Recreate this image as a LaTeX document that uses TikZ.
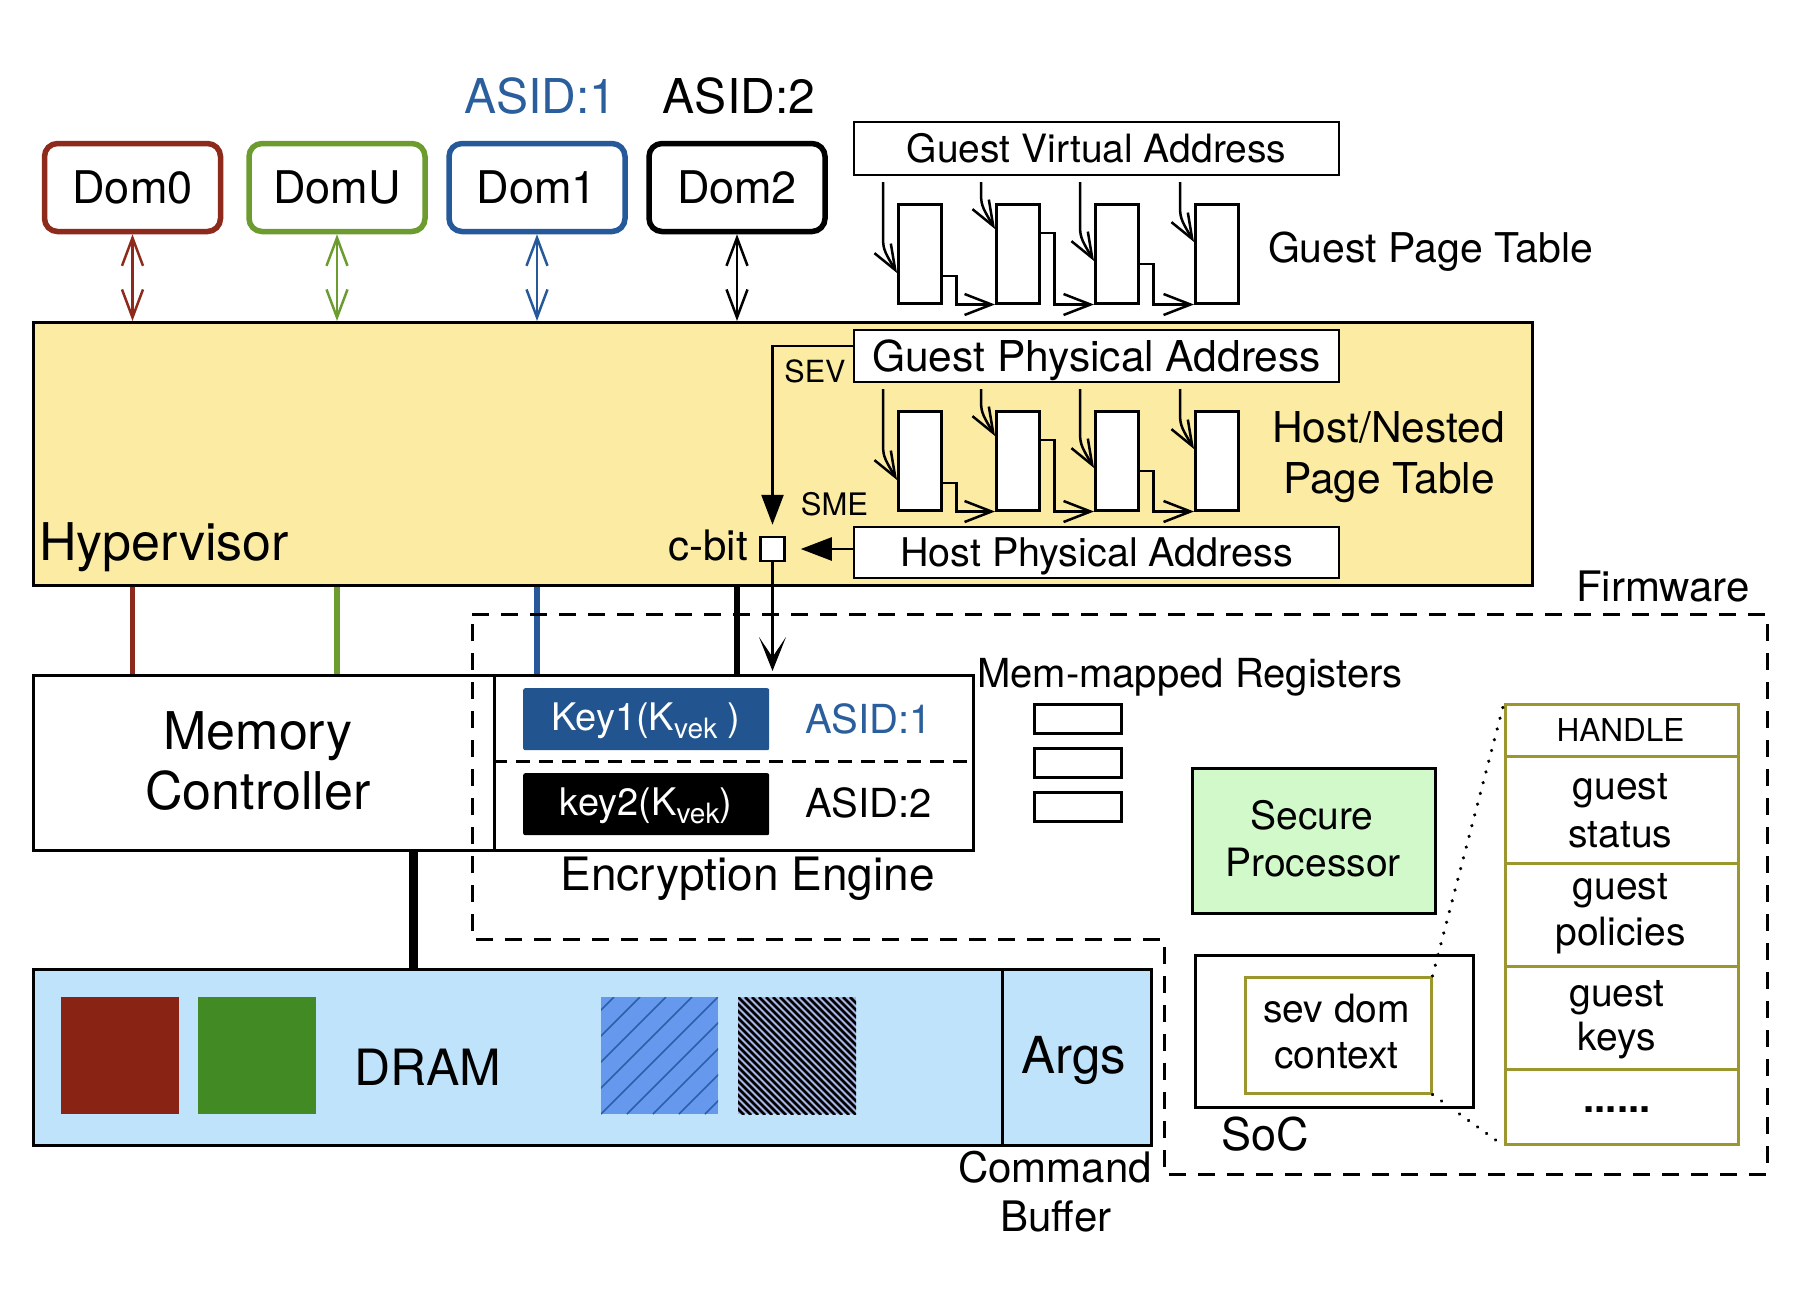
\documentclass[tikz,border=0pt]{standalone}
\usepackage{fontspec}
\setmainfont{TeX Gyre Heros}
\usetikzlibrary{arrows.meta,calc}
\definecolor{domred}{HTML}{8E2A1C}
\definecolor{domgreen}{HTML}{6C9B30}
\definecolor{domblue}{HTML}{25599A}
\definecolor{hypfill}{HTML}{FCEBA3}
\definecolor{keyblue}{HTML}{22558F}
\definecolor{asidblue}{HTML}{2A5E9C}
\definecolor{dramfill}{HTML}{BEE3FB}
\definecolor{sqred}{HTML}{892314}
\definecolor{sqgreen}{HTML}{428A23}
\definecolor{hbluebg}{HTML}{6699EE}
\definecolor{hblueln}{HTML}{2D5FA8}
\definecolor{hblackbg}{HTML}{A8B6E6}
\definecolor{spfill}{HTML}{D1F9C9}
\definecolor{olive}{HTML}{9C962E}
\newcommand\fs[1]{\fontsize{#1}{#1}\selectfont}
\newcommand\vek{\raisebox{-8pt}{\fs{28}vek}}
\begin{document}
\begin{tikzpicture}[x=1pt,y=-1pt,
  bx/.style={draw, line width=2.5pt, inner sep=0pt, anchor=north west, fill=white},
  lbl/.style={inner sep=0pt, anchor=base},
  dombox/.style={draw, line width=5.5pt, rounded corners=13pt, inner sep=0pt,
     minimum width=176pt, minimum height=88pt, fill=white, font=\fs{45}},
  darrow/.style={line width=2.5pt, {Straight Barb[length=28pt,width=21pt]}-{Straight Barb[length=28pt,width=21pt]}},
  vbarb/.style={line width=2.5pt, -{Straight Barb[length=25pt,width=19pt]}},
  hbarb/.style={line width=2.5pt, -{Straight Barb[length=27pt,width=21pt]}},
  tri/.style={line width=2.5pt, -{Triangle[length=30pt,width=22pt]}},
  fwline/.style={line width=3pt, dash pattern=on 17pt off 12pt},
  dotline/.style={line width=3.5pt, line cap=round, dash pattern=on 0.1pt off 11pt},
  ptblock/.style={bx, minimum width=43pt, minimum height=99pt},
  colline/.style={line width=5.5pt},
]
\useasboundingbox (0,0) rectangle (1818,1310);

% ---------------- Domains ----------------
\node[lbl, font=\fs{48}, text=asidblue] (asid1) at (540.5,113) {ASID:1};
\node[lbl, font=\fs{48}] (asid2) at (739,113) {ASID:2};
\node[dombox, draw=domred]   (dom0) at (132.5,187.5) {Dom0};
\node[dombox, draw=domgreen] (domu) at (337,187.5) {DomU};
\node[dombox, draw=domblue]  (dom1) at (537,187.5) {Dom1};
\node[dombox, draw=black]    (dom2) at (737,187.5) {Dom2};

% ---------------- Hypervisor ----------------
\node[bx, fill=hypfill, minimum width=1499pt, minimum height=263pt] (hyp) at (32,321) {};
\node[lbl, anchor=base west, font=\fs{52}] (hyplbl) at (39,560) {Hypervisor};

\draw[darrow, domred]   (dom0.south) -- (dom0.south |- hyp.north);
\draw[darrow, domgreen] (domu.south) -- (domu.south |- hyp.north);
\draw[darrow, domblue]  (dom1.south) -- (dom1.south |- hyp.north);
\draw[darrow, black]    (dom2.south) -- (dom2.south |- hyp.north);

% ---------------- Address boxes ----------------
\node[bx, anchor=center, minimum width=485pt, minimum height=53pt, font=\fs{39},
      text height=28pt, text depth=0pt] (gva) at (1096.5,148.5) {Guest Virtual Address};
\node[bx, anchor=center, minimum width=485pt, minimum height=52pt, font=\fs{42.5},
      text height=30.5pt, text depth=0pt] (gpa) at (1096.5,356) {Guest Physical Address};
\node[bx, anchor=center, minimum width=485pt, minimum height=51pt, font=\fs{39.5},
      text height=28.4pt, text depth=0pt] (hpa) at (1096.5,552.5) {Host Physical Address};

% ---------------- Page tables ----------------
\node[ptblock] (gb1) at (897,203) {};
\node[ptblock] (gb2) at (995,203) {};
\node[ptblock] (gb3) at (1094,203) {};
\node[ptblock] (gb4) at (1194,203) {};
\node[ptblock] (hb1) at (897,410) {};
\node[ptblock] (hb2) at (995,410) {};
\node[ptblock] (hb3) at (1094,410) {};
\node[ptblock] (hb4) at (1194,410) {};

\foreach \bi/\dy in {1/70,2/26,3/58,4/39} {
  \draw[vbarb] ($(gb\bi.north west)+(-14,-21)$) -- ($(gb\bi.north west)+(-14,\dy-40)$)
     .. controls ($(gb\bi.north west)+(-14,\dy-24)$) .. ($(gb\bi.north west)+(0,\dy)$);
  \draw[vbarb] ($(hb\bi.north west)+(-14,-21)$) -- ($(hb\bi.north west)+(-14,\dy-40)$)
     .. controls ($(hb\bi.north west)+(-14,\dy-24)$) .. ($(hb\bi.north west)+(0,\dy)$);
}
\foreach \bi/\nx/\sy in {1/2/276,2/3/233,3/4/264} {
  \draw[hbarb] (gb\bi.east |- 0,\sy) -- ++(14,0) |- (gb\nx.south west);
}
\foreach \bi/\nx/\sy in {1/2/483,2/3/440,3/4/471} {
  \draw[hbarb] (hb\bi.east |- 0,\sy) -- ++(14,0) |- (hb\nx.south west);
}
\node[lbl, font=\fs{41}] (gptl) at (1430.5,262) {Guest Page Table};
\node[lbl, font=\fs{42.5}] (hnpt1) at (1388.5,442) {Host/Nested};
\node[lbl, font=\fs{42.5}] (hnpt2) at (1389,493) {Page Table};

% ---------------- c-bit ----------------
\node[draw, line width=2.5pt, fill=white, minimum size=24pt, inner sep=0pt] (cbit) at (772.5,549) {};
\node[lbl, anchor=base east, font=\fs{42}] (cbitlbl) at (748,560) {c-bit};
\node[lbl, font=\fs{30.5}] (sev) at (815,382) {SEV};
\node[lbl, font=\fs{31}] (sme) at (834.5,515) {SME};
\draw[tri] ([yshift=10pt]gpa.west) -| ([yshift=11pt]cbit.north);
\draw[line width=2.5pt, -{Triangle[length=31pt,width=23pt]}] (hpa.west |- cbit.east) -- ([xshift=15pt]cbit.east);

% ---------------- Memory controller & encryption engine ----------------
\node[bx, minimum width=461pt, minimum height=175pt] (mc) at (32,674) {};
\node[lbl, font=\fs{52}] (mcl1) at (258,749) {Memory};
\node[lbl, font=\fs{52}] (mcl2) at (258,809.5) {Controller};
\node[bx, minimum width=479pt, minimum height=175pt] (ee) at (493,674) {};
\draw[line width=2.5pt, dash pattern=on 14pt off 9pt] (ee.west |- 0,761.5) -- (ee.east |- 0,761.5);

\node[fill=keyblue, rounded corners=2pt, inner sep=0pt, anchor=north west,
      minimum width=246pt, minimum height=62pt] (key1) at (523,688) {};
\node[fill=black, rounded corners=2pt, inner sep=0pt, anchor=north west,
      minimum width=246pt, minimum height=62pt] (key2) at (523,773) {};
\node[lbl, text=white, font=\fs{38}] (key1l) at (646,730) {Key1(K\vek\ )};
\node[lbl, text=white, font=\fs{38}] (key2l) at (646,815) {key2(K\vek)};
\node[lbl, anchor=base west, font=\fs{40}, text=asidblue] (easid1) at (805,733) {ASID:1};
\node[lbl, anchor=base west, font=\fs{40}] (easid2) at (805,817) {ASID:2};
\node[lbl, font=\fs{46}] (eel) at (747.5,890) {Encryption Engine};

% hypervisor to memory controller / engine
\draw[colline, domred]   (dom0 |- hyp.south) -- (dom0 |- mc.north);
\draw[colline, domgreen] (domu |- hyp.south) -- (domu |- mc.north);
\draw[colline, domblue]  (dom1 |- hyp.south) -- (dom1 |- ee.north);
\draw[colline, black]    (dom2 |- hyp.south) -- (dom2 |- ee.north);
\draw[line width=2.5pt, -{Stealth[length=34pt,width=27pt,inset=20pt]}] (cbit.south) -- ($(cbit.south |- ee.north)+(0,-3)$);

% ---------------- Firmware region ----------------
\draw[fwline] (472,614) -- (1767,614) -- (1767,1174) -- (1164,1174) -- (1164,939) -- (472,939) -- cycle;
\node[lbl, font=\fs{42}] (fwl) at (1663,601) {Firmware};

\node[lbl, anchor=base west, font=\fs{40}] (mmr) at (977,687) {Mem-mapped Registers};
\node[bx, minimum width=87pt, minimum height=29pt] (reg1) at (1033,703) {};
\node[bx, minimum width=87pt, minimum height=29pt] (reg2) at (1033,747) {};
\node[bx, minimum width=87pt, minimum height=29pt] (reg3) at (1033,791) {};

\node[bx, fill=spfill, line width=3pt, minimum width=243pt, minimum height=145pt] (sp) at (1191,767) {};
\node[lbl, font=\fs{39}] (spl1) at (1312,829) {Secure};
\node[lbl, font=\fs{39}] (spl2) at (1313,876) {Processor};

\node[bx, minimum width=278pt, minimum height=152pt] (soc) at (1194,954) {};
\node[lbl, font=\fs{45}] (socl) at (1265.5,1150) {SoC};
\node[bx, draw=olive, minimum width=186pt, minimum height=116pt] (ctx) at (1244,976) {};
\node[lbl, font=\fs{39}] (ctxl1) at (1336.5,1022) {sev dom};
\node[lbl, font=\fs{39}] (ctxl2) at (1336.5,1068) {context};

\node[bx, draw=olive, line width=3pt, minimum width=233pt, minimum height=440pt] (tbl) at (1504,703) {};
\foreach \ry in {756,863,966,1069} {
  \draw[olive, line width=3pt] (tbl.west |- 0,\ry) -- (tbl.east |- 0,\ry);
}
\node[lbl, font=\fs{31.5}] (t1) at (1620.5,741) {HANDLE};
\node[lbl, font=\fs{39}] (t2a) at (1620.5,799) {guest};
\node[lbl, font=\fs{39}] (t2b) at (1620.5,847) {status};
\node[lbl, font=\fs{39}] (t3a) at (1620.5,899) {guest};
\node[lbl, font=\fs{39}] (t3b) at (1620.5,945) {policies};
\node[lbl, font=\fs{39}] (t4a) at (1617,1006) {guest};
\node[lbl, font=\fs{39}] (t4b) at (1617,1050) {keys};
\node[lbl, font=\bfseries\fs{40}] (t5) at (1617,1112) {......};
\draw[dotline] (ctx.north east) -- (tbl.north west);
\draw[dotline] (ctx.south east) -- (tbl.south west);

% ---------------- DRAM ----------------
\node[bx, fill=dramfill, line width=3pt, minimum width=1118pt, minimum height=176pt] (dram) at (32,968) {};
\draw[line width=3pt] (1002,0 |- dram.north) -- (1002,0 |- dram.south);
\draw[line width=9pt] (mc.south -| 413,0) -- (dram.north -| 413,0);
\fill[sqred] (61,997) rectangle (179,1114);
\fill[sqgreen] (198,997) rectangle (316,1114);
\fill[hbluebg] (601,997) rectangle (718,1114);
\begin{scope}
  \clip (601,997) rectangle (718,1114);
  \foreach \k in {-6,...,6} {
    \draw[hblueln, line width=1.5pt] (601+\k*26,1114) -- (718+\k*26,997);
  }
\end{scope}
\fill[hblackbg] (738,997) rectangle (856,1114);
\begin{scope}
  \clip (738,997) rectangle (856,1114);
  \foreach \k in {-18,...,18} {
    \draw[black, line width=2.6pt] (738+\k*7,997) -- (856+\k*7,1115);
  }
\end{scope}
\node[lbl, font=\fs{50}] (draml) at (428,1085) {DRAM};
\node[lbl, font=\fs{51}] (argsl) at (1074,1073) {Args};
\node[lbl, font=\fs{42}] (cb1) at (1055,1182) {Command};
\node[lbl, font=\fs{42}] (cb2) at (1056,1231) {Buffer};
\end{tikzpicture}
\end{document}
